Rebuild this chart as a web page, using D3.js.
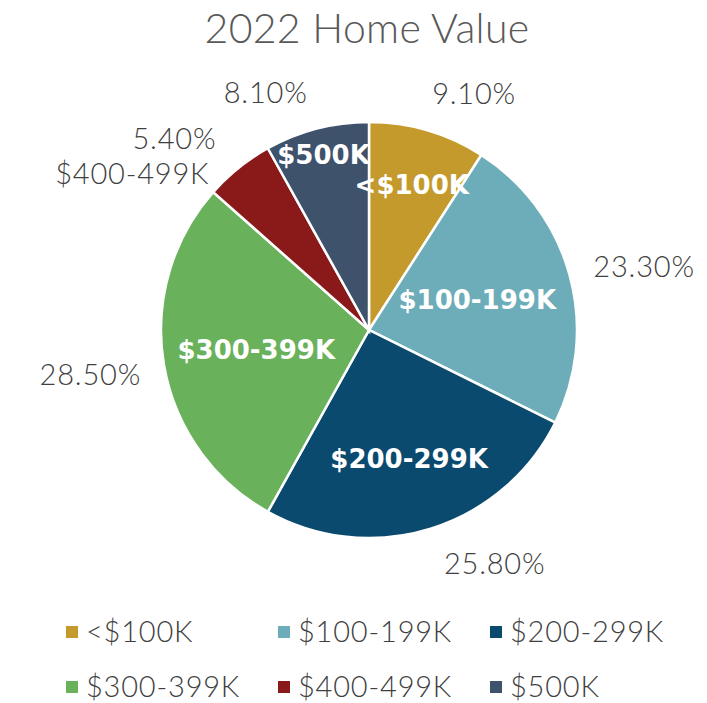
<!DOCTYPE html>
<html>
<head>
<meta charset="utf-8">
<script src="https://cdn.jsdelivr.net/npm/d3@7"></script>
<style>
  body { margin: 0; background: #fff; }
</style>
</head>
<body>
<div id="chart"></div>
<script>
const categories = ["<$100K", "$100-199K", "$200-299K", "$300-399K", "$400-499K", "$500K"];
const shares = [9.1, 23.3, 25.8, 28.5, 5.4, 8.1];
const shareLabels = ["9.10%", "23.30%", "25.80%", "28.50%", "5.40%", "8.10%"];
const colors = ["#C49A2C", "#6DADB9", "#0B4A6F", "#6AB15C", "#8A1A1A", "#3E526C"];

// label placement tweaks (layout only)
const innerRadiusFrac = [0.73, 0.54, 0.65, 0.55, null, 0.87];
const outerNudge = [7.6, 2.4, -11, 0.7, -16, -9];

const width = 707, height = 703;
const cx = 369, cy = 330, r = 208;
const lightFont = "Lato, 'Open Sans', sans-serif";

const svg = d3.select("#chart").append("svg")
  .attr("width", width)
  .attr("height", height);

svg.append("text")
  .attr("x", 367)
  .attr("y", 43)
  .attr("text-anchor", "middle")
  .attr("font-family", lightFont)
  .attr("font-size", 41)
  .attr("font-weight", 300)
  .attr("letter-spacing", 0.3)
  .attr("fill", "#595959")
  .text("2022 Home Value");

const pie = d3.pie().sort(null).value(d => d);
const arcs = pie(shares);
const arc = d3.arc().innerRadius(0).outerRadius(r);

const g = svg.append("g").attr("transform", `translate(${cx},${cy})`);

g.selectAll("path.slice")
  .data(arcs)
  .enter()
  .append("path")
  .attr("class", "slice")
  .attr("d", arc)
  .attr("fill", (d, i) => colors[i])
  .attr("stroke", "#fff")
  .attr("stroke-width", 2.5);

// category labels inside the slices
arcs.forEach((d, i) => {
  if (innerRadiusFrac[i] == null) return;
  const rr = r * innerRadiusFrac[i];
  const c = d3.arc().innerRadius(rr).outerRadius(rr).centroid(d);
  g.append("text")
    .attr("x", c[0])
    .attr("y", c[1])
    .attr("dy", "0.36em")
    .attr("text-anchor", "middle")
    .attr("font-family", "'DejaVu Sans', sans-serif")
    .attr("font-weight", "bold")
    .attr("font-size", 26)
    .attr("fill", "#fff")
    .text(categories[i]);
});

// percentage labels outside (the small slice also gets its name here)
const gap = 22;
arcs.forEach((d, i) => {
  const lines = innerRadiusFrac[i] == null ? [shareLabels[i], categories[i]] : [shareLabels[i]];
  const lineH = 35;
  const t = g.append("text")
    .attr("font-family", lightFont)
    .attr("font-size", 29)
    .attr("font-weight", 300)
    .attr("letter-spacing", 0.8)
    .attr("fill", "#404040");
  lines.forEach(s => t.append("tspan").text(s));
  const widths = [];
  t.selectAll("tspan").each(function () { widths.push(this.getComputedTextLength()); });
  const w = d3.max(widths), h = lines.length * lineH - 9;
  const a = (d.startAngle + d.endAngle) / 2 + outerNudge[i] * Math.PI / 180;
  const sa = Math.sin(a), ca = Math.cos(a);
  const dist = r + gap + Math.abs(sa) * w / 2 + Math.abs(ca) * h / 2;
  const bx = dist * sa, by = -dist * ca;
  if (lines.length === 1) {
    t.attr("text-anchor", "middle");
    t.select("tspan").attr("x", bx).attr("y", by).attr("dy", "0.36em");
  } else {
    t.attr("text-anchor", "end");
    t.selectAll("tspan")
      .attr("x", (s, k) => bx + w / 2 + (k === 0 ? 24 : 17))
      .attr("y", (s, k) => by - h / 2 + 28 + k * lineH);
  }
});

// legend
const legendCol = d3.scalePoint().domain([0, 1, 2]).range([66, 490]);
const legendRow = d3.scalePoint().domain([0, 1]).range([632, 687]);

const legend = svg.append("g");
categories.forEach((c, i) => {
  const x = legendCol(i % 3), y = legendRow(Math.floor(i / 3));
  legend.append("rect")
    .attr("x", x)
    .attr("y", y - 6)
    .attr("width", 12)
    .attr("height", 12)
    .attr("fill", colors[i]);
  legend.append("text")
    .attr("x", x + 20)
    .attr("y", y)
    .attr("dy", "0.36em")
    .attr("font-family", lightFont)
    .attr("font-size", 29)
    .attr("font-weight", 300)
    .attr("letter-spacing", 0.8)
    .attr("fill", "#404040")
    .text(c);
});
</script>
</body>
</html>
